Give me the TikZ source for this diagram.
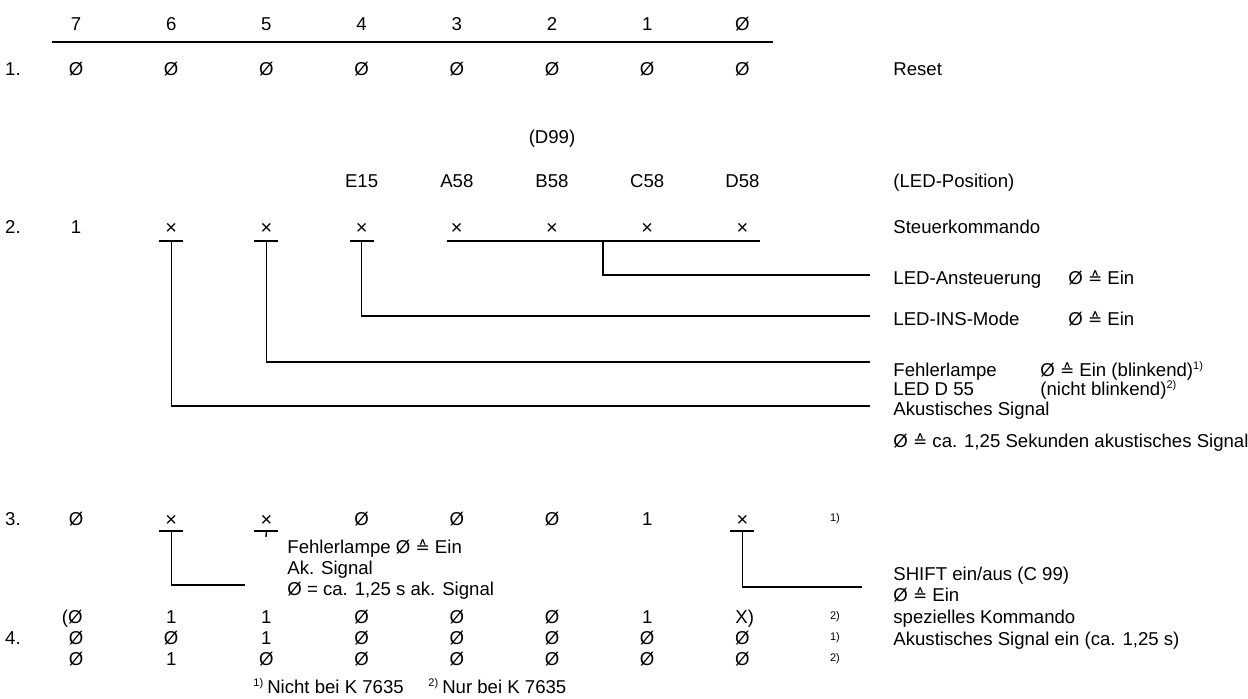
\documentclass[tikz,border=0pt]{standalone}
\usepackage{fontspec}
\setmainfont{Liberation Sans}
\newfontfamily\symfont{DejaVu Sans}
\newcommand{\entspr}{{\symfont\fontsize{8.5}{10}\selectfont ≙}}
\newcommand{\fnm}[1]{\textsuperscript{\fontsize{5.5}{6}\selectfont #1)}}

\begin{document}
\begin{tikzpicture}[x=0.5pt, y=-0.5pt, font=\fontsize{9.3}{11}\selectfont,
    bit/.style={anchor=base, inner sep=0pt, yshift=-3pt},
    lbl/.style={anchor=base west, inner sep=0pt, yshift=-3pt},
    kreuz/.style={anchor=center, inner sep=0pt, font=\fontsize{10}{11}\selectfont},
    tbar/.style={line width=0.9pt},
    wire/.style={line width=0.7pt}]
    \useasboundingbox (0,0) rectangle (1248,699);

    % Bitnummern
    \foreach \b [count=\i from 0] in {7,6,5,4,3,2,1,Ø}
        \node[bit] (h\i) at (76+95.2*\i,25) {\b};
    \draw[line width=1pt] (52,42) -- (773,42);

    % 1. Reset
    \node[bit] (n1) at (13,70) {1.};
    \foreach \i in {0,...,7}
        \node[bit] (r\i) at (76+95.2*\i,70) {Ø};
    \node[lbl] (reset) at (893,70) {Reset};

    % LED-Positionen
    \node[bit] (d99) at (552,138) {(D99)};
    \foreach \p [count=\i from 3] in {E15,A58,B58,C58,D58}
        \node[bit] (p\i) at (76+95.2*\i,182) {\p};
    \node[lbl] (ledpos) at (893,182) {(LED-Position)};

    % 2. Steuerkommando
    \node[bit] (n2) at (13,228) {2.};
    \node[bit] (s0) at (76,228) {1};
    \foreach \i in {1,...,7}
        \node[kreuz] (s\i) at (76+95.2*\i,229) {×};
    \node[lbl] (steuer) at (893,228) {Steuerkommando};

    \foreach \i in {1,2,3}
        \draw[tbar] (76+95.2*\i-12,241) -- (76+95.2*\i+12,241);
    \draw[tbar] (447,241) -- (760,241);

    \coordinate (gruppe) at (603,241);
    \coordinate (eAnst) at (870,275);
    \coordinate (eIns) at (870,316);
    \coordinate (eFehl) at (870,362);
    \coordinate (eAkus) at (870,406);
    \draw[wire] (gruppe) |- (eAnst);
    \draw[wire] (s3.center |- gruppe) |- (eIns);
    \draw[wire] (s2.center |- gruppe) |- (eFehl);
    \draw[wire] (s1.center |- gruppe) |- (eAkus);

    \node[lbl] (anst) at (893,279) {LED-Ansteuerung};
    \node[lbl] (anstW) at (1068,279) {Ø \entspr{} Ein};
    \node[lbl] (ins) at (893,320) {LED-INS-Mode};
    \node[lbl] (insW) at (1068,320) {Ø \entspr{} Ein};
    \node[lbl] (fehl) at (893,371) {Fehlerlampe};
    \node[lbl] (fehlW) at (1040,371) {Ø \entspr{} Ein (blinkend)\fnm{1}};
    \node[lbl] (led55) at (893,390) {LED D 55};
    \node[lbl] (led55W) at (1040,390) {(nicht blinkend)\fnm{2}};
    \node[lbl] (akus) at (893,410) {Akustisches Signal};
    \node[lbl] (akusW) at (893,442) {Ø \entspr{} ca. 1,25 Sekunden akustisches Signal};

    % 3. Fehlerlampe / SHIFT
    \node[bit] (n3) at (13,520) {3.};
    \foreach \i/\v in {0/Ø,3/Ø,4/Ø,5/Ø,6/1}
        \node[bit] (t\i) at (76+95.2*\i,520) {\v};
    \foreach \i in {1,2,7}
        \node[kreuz] (t\i) at (76+95.2*\i,521) {×};
    \node[bit, font=\fontsize{5.5}{6}\selectfont] (t8) at (835,516) {1)};
    \foreach \i in {1,2,7}
        \draw[tbar] (76+95.2*\i-12,531) -- (76+95.2*\i+12,531);
    \draw[wire] (t2.center |- 0,531) -- (266,537);

    \coordinate (eAk3) at (245,585);
    \coordinate (eShift) at (862,587);
    \draw[wire] (t1.center |- 0,531) |- (eAk3);
    \draw[wire] (t7.center |- 0,531) |- (eShift);

    \node[lbl] (fehl3) at (287,548) {Fehlerlampe Ø \entspr{} Ein};
    \node[lbl] (ak3) at (287,569) {Ak. Signal};
    \node[lbl] (ak3W) at (287,590) {Ø = ca. 1,25 s ak. Signal};
    \node[lbl] (shift) at (893,575) {SHIFT ein/aus (C 99)};
    \node[lbl] (shiftW) at (893,596) {Ø \entspr{} Ein};

    % 4. spezielles Kommando
    \node[bit] (n4) at (13,639) {4.};
    \node[bit, anchor=base east] (a0) at (83,618) {(Ø};
    \foreach \v [count=\i from 1] in {1,1,Ø,Ø,Ø,1}
        \node[bit] (a\i) at (76+95.2*\i,618) {\v};
    \node[bit, anchor=base west] (a7) at (735,618) {X)};
    \foreach \v [count=\i from 0] in {Ø,Ø,1,Ø,Ø,Ø,Ø,Ø}
        \node[bit] (b\i) at (76+95.2*\i,639) {\v};
    \foreach \v [count=\i from 0] in {Ø,1,Ø,Ø,Ø,Ø,Ø,Ø}
        \node[bit] (c\i) at (76+95.2*\i,660) {\v};
    \node[bit, font=\fontsize{5.5}{6}\selectfont] (fa) at (835,614) {2)};
    \node[bit, font=\fontsize{5.5}{6}\selectfont] (fb) at (835,635) {1)};
    \node[bit, font=\fontsize{5.5}{6}\selectfont] (fc) at (835,656) {2)};
    \node[lbl] (spez) at (893,618) {spezielles Kommando};
    \node[lbl] (akein) at (893,640) {Akustisches Signal ein (ca. 1,25 s)};

    % Fussnoten
    \node[lbl] (fn1) at (253,688) {\fnm{1}\,Nicht bei K 7635};
    \node[lbl] (fn2) at (428,688) {\fnm{2}\,Nur bei K 7635};
\end{tikzpicture}
\end{document}
